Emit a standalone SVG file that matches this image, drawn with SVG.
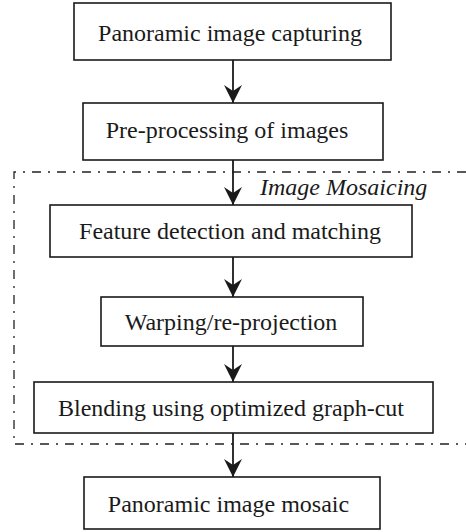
<svg xmlns="http://www.w3.org/2000/svg" width="466" height="532" viewBox="0 0 466 532">
<defs>
<marker id="ah" markerUnits="userSpaceOnUse" markerWidth="20" markerHeight="20" refX="18" refY="9" orient="auto" viewBox="0 0 20 18">
<path d="M18,9 L0,0 L6,9 L0,18 Z" fill="#1a1a1a"/>
</marker>
<style>
.box{fill:#fff;stroke:#1a1a1a;stroke-width:1.6}
.t{font-family:"Liberation Serif","Times New Roman",serif;font-size:24px;fill:#1a1a1a;text-anchor:middle}
.it{font-family:"Liberation Serif","Times New Roman",serif;font-size:24px;font-style:italic;fill:#1a1a1a}
.c{stroke:#1a1a1a;stroke-width:1.8;fill:none;marker-end:url(#ah)}
.frame{fill:none;stroke:#222;stroke-width:1.3;stroke-dasharray:9 7 2 7}
</style>
</defs>
<g id="mosaicing-frame">
<path class="frame" d="M466,172 H14 V444 H466"/>
<text class="it" x="260" y="195">Image Mosaicing</text>
</g>
<g id="connectors">
<line class="c" x1="233" y1="60" x2="233" y2="103"/>
<line class="c" x1="233" y1="160" x2="233" y2="205"/>
<line class="c" x1="233" y1="257" x2="233" y2="297"/>
<line class="c" x1="233" y1="346" x2="233" y2="382"/>
<line class="c" x1="233" y1="433" x2="233" y2="477"/>
</g>
<g id="n1"><rect class="box" x="74" y="3" width="317" height="57"/><text class="t" x="230" y="41">Panoramic image capturing</text></g>
<g id="n2"><rect class="box" x="83" y="103" width="300" height="57"/><text class="t" x="227" y="138">Pre-processing of images</text></g>
<g id="n3"><rect class="box" x="50" y="205" width="362" height="52"/><text class="t" x="230" y="239">Feature detection and matching</text></g>
<g id="n4"><rect class="box" x="101" y="297" width="262" height="49"/><text class="t" x="231" y="330">Warping/re-projection</text></g>
<g id="n5"><rect class="box" x="34" y="382" width="399" height="51"/><text class="t" x="231" y="416">Blending using optimized graph-cut</text></g>
<g id="n6"><rect class="box" x="84" y="477" width="296" height="52"/><text class="t" x="228.5" y="512">Panoramic image mosaic</text></g>
</svg>
